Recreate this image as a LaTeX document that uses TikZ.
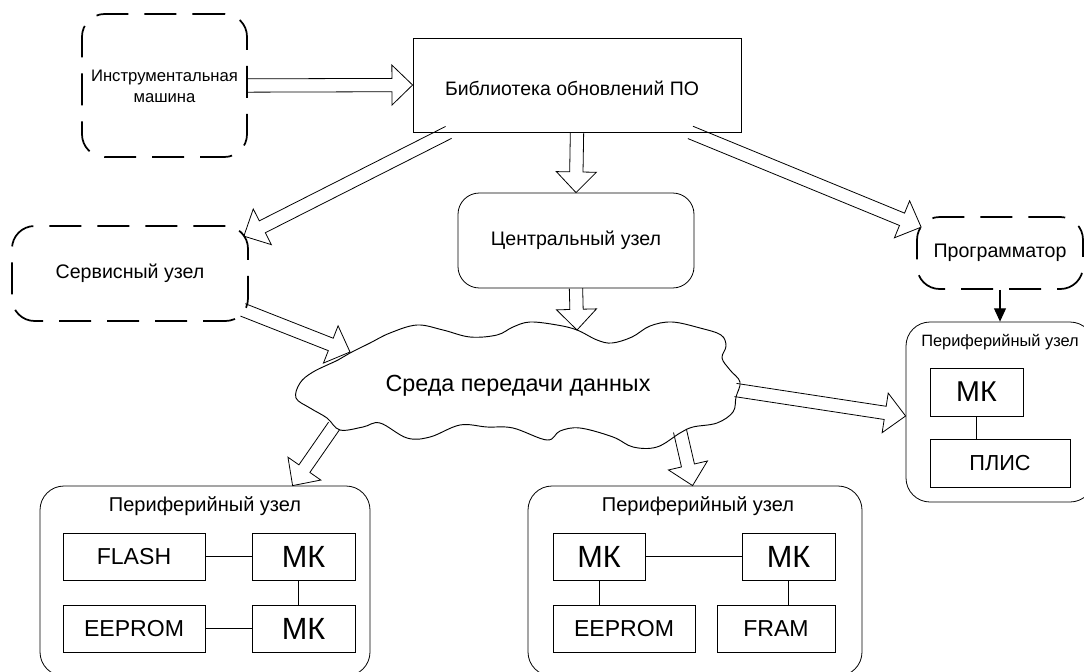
\documentclass[tikz,border=0pt]{standalone}
\usepackage{fontspec}
\setmainfont{Liberation Sans}
\usetikzlibrary{calc,fit,arrows.meta}
\newcommand{\fs}[1]{\fontsize{#1}{1.24\dimexpr#1\relax}\selectfont}
\newcommand{\harrow}[2]{%
  \coordinate (hbA) at (#1);
  \coordinate (hbB) at (#2);
  \coordinate (hbC) at ($(hbB)!15.5pt!(hbA)$);
  \draw[hollowarrow] ($(hbA)!5pt!90:(hbB)$) -- ($(hbC)!5pt!90:(hbB)$) -- ($(hbC)!15pt!90:(hbB)$) -- (hbB)
     -- ($(hbC)!15pt!-90:(hbB)$) -- ($(hbC)!5pt!-90:(hbB)$) -- ($(hbA)!5pt!-90:(hbB)$);
}
\begin{document}
\begin{tikzpicture}[x=0.75pt,y=-0.75pt,
  box/.style={draw, line width=0.6pt, inner sep=0pt},
  rbox/.style={box, rounded corners=16pt},
  pbox/.style={box, rounded corners=18pt},
  dbox/.style={draw, inner sep=0pt, line width=1.3pt, dash pattern=on 24pt off 12pt, rounded corners=17pt},
  hollowarrow/.style={draw, line width=0.6pt, line join=miter},
  conn/.style={draw, line width=0.6pt},
  txt/.style={inner sep=0pt},
  lbl/.style={txt, font=\fs{14.7pt}},
  ptitle/.style={txt, font=\fs{15pt}},
  mk/.style={txt, font=\fs{23pt}},
  mem/.style={txt, font=\fs{17.3pt}}]
\useasboundingbox (0,0) rectangle (1084,671);
\clip (0,0) rectangle (1084,671);

% top nodes
\node[dbox, fit={(82,14)(247,157)}] (instr) {};
\node[txt, align=center, font=\fs{12.5pt}] (instrt) at ($(instr.center)+(0,1)$) {Инструментальная\\машина};
\node[box, fit={(413,38)(741,132)}] (lib) {};
\node[txt, font=\fs{14.6pt}] (libt) at ($(lib.center)+(-5,3)$) {Библиотека обновлений ПО};
\node[rbox, fit={(458,193)(694,288)}] (central) {};
\node[lbl] (centralt) at (central.center) {Центральный узел};
\node[dbox, fit={(12,226)(248,321)}] (service) {};
\node[lbl] (servicet) at (service.center) {Сервисный узел};
\node[dbox, fit={(917,217)(1083,289)}] (prog) {};
\node[lbl] (progt) at (prog.center) {Программатор};

% cloud
\draw[line width=0.7pt] plot[smooth cycle, tension=0.6] coordinates {
 (350,353) (370,343) (390,333) (417,325) (443,330) (470,337) (497,335) (513,327) (530,322)
 (557,325) (577,330) (597,340) (612,343) (632,337) (650,326) (672,322) (700,328) (721,335)
 (726,346) (722,358) (730,370) (740,382) (736,397) (733,412) (717,423) (693,427) (680,433)
 (657,447) (633,447) (613,437) (580,428) (560,431) (547,440) (513,428) (487,427) (460,425)
 (430,437) (407,438) (380,423) (363,427) (340,430) (327,418) (310,408) (296,398) (300,383)
 (313,372) (338,360)};
\node[txt, font=\fs{17.5pt}] (cloud) at (518,386) {Среда передачи данных};
\coordinate (cinS) at (350,352);
\coordinate (cinC) at (577,330);
\coordinate (coutR) at (735.5,390);
\coordinate (coutL) at (334,426);
\coordinate (coutM) at (680,431);

% left peripheral
\node[pbox, fit={(40,486)(370,676)}] (lp) {};
\node[ptitle] (lpt) at (205,506) {Периферийный узел};
\node[box, fit={(63,533)(205,580)}] (lflash) {};
\node[mem] at (lflash.center) {FLASH};
\node[box, fit={(252,533)(355,580)}] (lmk1) {};
\node[mk] at (lmk1.center) {МК};
\node[box, fit={(63,605)(205,652)}] (leeprom) {};
\node[mem] at (leeprom.center) {EEPROM};
\node[box, fit={(252,605)(355,652)}] (lmk2) {};
\node[mk] at (lmk2.center) {МК};
\draw[conn] (lflash.east) -- (lmk1.west);
\draw[conn] (leeprom.east) -- (lmk2.west);
\draw[conn] ($(lmk1.south)+(-5,0)$) -- ($(lmk2.north)+(-5,0)$);

% middle peripheral
\node[pbox, fit={(528,486)(862,676)}] (mp) {};
\node[ptitle] (mpt) at (698,506) {Периферийный узел};
\node[box, fit={(553,533)(645,580)}] (mmk1) {};
\node[mk] at (mmk1.center) {МК};
\node[box, fit={(742,533)(835,580)}] (mmk2) {};
\node[mk] at (mmk2.center) {МК};
\node[box, fit={(553,605)(695,652)}] (meeprom) {};
\node[mem] at (meeprom.center) {EEPROM};
\node[box, fit={(717,605)(835,652)}] (mfram) {};
\node[mem] at (mfram.center) {FRAM};
\draw[conn] (mmk1.east) -- (mmk2.west);
\draw[conn] (mmk1.south) -- (mmk1.south |- meeprom.north);
\draw[conn] (mmk2.south) -- (mmk2.south |- mfram.north);

% right peripheral
\node[pbox, fit={(906,322)(1094,502)}] (rp) {};
\node[txt, font=\fs{12.3pt}] (rpt) at (1000,342) {Периферийный узел};
\node[box, fit={(930,368)(1023,416)}] (rmk) {};
\node[txt, font=\fs{21.5pt}] at (rmk.center) {МК};
\node[box, fit={(930,439)(1070,487)}] (rplis) {};
\node[txt, font=\fs{16.3pt}] at (rplis.center) {ПЛИС};
\draw[conn] (rmk.south) -- (rmk.south |- rplis.north);

% arrows
\harrow{instr.east}{lib.west}
\harrow{lib.south}{central.north}
\harrow{$(lib.south west)+(36,0)$}{$(service.north east)+(-5,11)$}
\harrow{$(lib.south east)+(-51,0)$}{$(prog.north west)+(5,11)$}
\harrow{$(service.south east)+(-6,-12)$}{cinS}
\harrow{central.south}{cinC}
\harrow{coutR}{$(rp.west)+(0,4)$}
\harrow{coutL}{$(lp.north west)+(253,0)$}
\harrow{coutM}{$(mp.north west)+(165,0)$}
\draw[line width=0.8pt, -{Triangle[width=9pt,length=10pt]}] (prog.south) -- (rp.north);
\end{tikzpicture}
\end{document}
